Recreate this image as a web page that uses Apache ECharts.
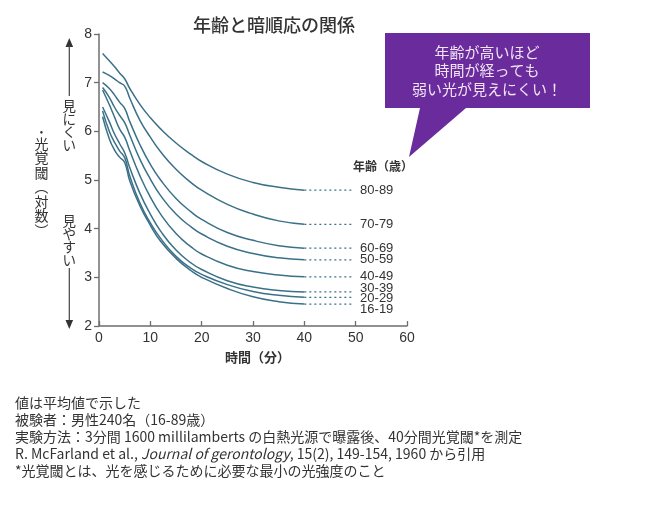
<!DOCTYPE html>
<html><head><meta charset="utf-8">
<script src="https://cdn.jsdelivr.net/npm/echarts@6/dist/echarts.min.js"></script>
<style>html,body{margin:0;padding:0;background:#fff;}#c{width:650px;height:515px;}</style>
</head><body><div id="c"></div>
<script>
var times = [0.7, 2, 3, 4, 5, 6, 8, 10, 12, 15, 18, 20, 25, 30, 35, 40];
var ageGroups = ['80-89', '70-79', '60-69', '50-59', '40-49', '30-39', '20-29', '16-19'];
var v80 = [7.6, 7.45, 7.33, 7.2, 7.08, 6.88, 6.55, 6.28, 6.05, 5.76, 5.52, 5.38, 5.12, 4.95, 4.85, 4.79];
var v70 = [7.22, 7.15, 7.08, 7.0, 6.93, 6.68, 6.22, 5.88, 5.58, 5.22, 4.94, 4.79, 4.5, 4.3, 4.16, 4.09];
var v60 = [7.0, 6.88, 6.75, 6.6, 6.47, 6.2, 5.72, 5.32, 5.0, 4.62, 4.34, 4.19, 3.92, 3.76, 3.65, 3.6];
var v50 = [6.9, 6.7, 6.5, 6.33, 6.18, 5.92, 5.42, 5.02, 4.68, 4.3, 4.03, 3.89, 3.64, 3.49, 3.4, 3.36];
var v40 = [6.85, 6.55, 6.3, 6.05, 5.88, 5.6, 5.08, 4.65, 4.3, 3.9, 3.62, 3.48, 3.25, 3.12, 3.05, 3.01];
var v30 = [6.5, 6.2, 5.95, 5.75, 5.56, 5.25, 4.72, 4.3, 3.95, 3.56, 3.29, 3.16, 2.93, 2.8, 2.73, 2.7];
var v20 = [6.42, 6.0, 5.78, 5.6, 5.46, 5.08, 4.52, 4.12, 3.8, 3.43, 3.18, 3.06, 2.85, 2.71, 2.63, 2.59];
var v16 = [6.3, 5.85, 5.62, 5.47, 5.36, 4.98, 4.46, 4.07, 3.74, 3.39, 3.13, 3.0, 2.77, 2.6, 2.5, 2.45];
var extendTo = 49.5;
var labelOffsets = [0, 0, 0, 0, 0, -4, 1, 5];
var xTicks = [0, 10, 20, 30, 40, 50, 60];
var yTicks = [2, 3, 4, 5, 6, 7, 8];

var allValues = [v80, v70, v60, v50, v40, v30, v20, v16];
var lineColor = '#3b7188';
var series = [];
allValues.forEach(function (vals, i) {
  series.push({
    type: 'line', name: ageGroups[i], showSymbol: false, symbol: 'none',
    smooth: 0.5,
    lineStyle: { color: lineColor, width: 1.5 },
    data: times.map(function (t, k) { return [t, vals[k]]; }),
    silent: true
  });
  var last = vals[vals.length - 1];
  series.push({
    type: 'line', name: ageGroups[i] + '_ext', showSymbol: false, symbol: 'none',
    lineStyle: { color: lineColor, width: 1.3, type: [2, 3] },
    data: [[times[times.length - 1], last], [extendTo, last]],
    endLabel: { show: true, distance: 7, offset: [0, labelOffsets[i]], formatter: ageGroups[i],
      color: '#333', fontSize: 13, fontFamily: 'Liberation Sans, Arial, sans-serif' },
    silent: true
  });
});

var chart = echarts.init(document.getElementById('c'), null, { renderer: 'canvas' });
var cjk = '"Noto Sans CJK JP", sans-serif';
chart.setOption({
  animation: false,
  backgroundColor: '#ffffff',
  grid: { left: 99, right: 243, top: 34, bottom: 189, containLabel: false },
  xAxis: {
    type: 'value', min: xTicks[0], max: xTicks[xTicks.length - 1], interval: 10,
    axisLine: { lineStyle: { color: '#6e6e6e', width: 1.5 } },
    axisTick: { inside: true, length: 5, lineStyle: { color: '#6e6e6e', width: 1.3 } },
    axisLabel: { color: '#333', fontSize: 14, margin: 5, fontFamily: 'Liberation Sans, Arial, sans-serif' },
    splitLine: { show: false }
  },
  yAxis: {
    type: 'value', min: yTicks[0], max: yTicks[yTicks.length - 1], interval: 1,
    axisLine: { show: true, lineStyle: { color: '#6e6e6e', width: 1.5 } },
    axisTick: { show: true, inside: false, length: 5, lineStyle: { color: '#6e6e6e', width: 1.3 } },
    axisLabel: { color: '#333', fontSize: 14, margin: 7, fontFamily: 'Liberation Sans, Arial, sans-serif' },
    splitLine: { show: false }
  },
  series: series,
  graphic: [
    { type: 'text', left: 193, top: 16, style: { text: '年齢と暗順応の関係', fill: '#333', font: '500 18px ' + cjk } },
    { type: 'text', left: 353, top: 160, style: { text: '年齢（歳）', fill: '#333', font: '600 12px ' + cjk } },
    { type: 'text', left: 225, top: 351, style: { text: '時間（分）', fill: '#333', font: '600 13px ' + cjk } },
    // y-axis side annotations
    { type: 'polygon', shape: { points: [[69.3, 38], [65.5, 47], [73.1, 47]] }, style: { fill: '#333' } },
    { type: 'line', shape: { x1: 69.3, y1: 45, x2: 69.3, y2: 96 }, style: { stroke: '#444', lineWidth: 1.2 } },
    { type: 'text', x: 69.3, y: 99, style: { text: '見\nに\nく\nい', fill: '#333', font: '13.5px ' + cjk, align: 'center', lineHeight: 13 } },
    { type: 'text', x: 69.3, y: 214, style: { text: '見\nや\nす\nい', fill: '#333', font: '13.5px ' + cjk, align: 'center', lineHeight: 13 } },
    { type: 'line', shape: { x1: 69.3, y1: 268, x2: 69.3, y2: 320 }, style: { stroke: '#444', lineWidth: 1.2 } },
    { type: 'polygon', shape: { points: [[69.3, 329], [65.5, 320], [73.1, 320]] }, style: { fill: '#333' } },
    { type: 'text', x: 41.5, y: 126, style: { text: '•', fill: '#333', font: '10px ' + cjk, align: 'center' } },
    { type: 'text', x: 41.5, y: 136, style: { text: '光\n覚\n閾\n︵\n対\n数\n︶', fill: '#333', font: '14px ' + cjk, align: 'center', lineHeight: 14.5 } },
    // speech bubble
    { type: 'polygon', shape: { points: [[385, 33], [590, 33], [590, 108], [466, 108], [409, 157], [420, 108], [385, 108]] },
      style: { fill: '#6a2c9c' } },
    { type: 'text', x: 487, y: 43, style: { text: '年齢が高いほど\n時間が経っても\n弱い光が見えにくい！', fill: '#f0e4f5', font: '15px ' + cjk, align: 'center', lineHeight: 18.5 } },
    // notes
    { type: 'text', left: 15, top: 396, style: { text: '値は平均値で示した', fill: '#333', font: '14px ' + cjk } },
    { type: 'text', left: 15, top: 413, style: { text: '被験者：男性240名（16-89歳）', fill: '#333', font: '14px ' + cjk } },
    { type: 'text', left: 15, top: 430, style: { text: '実験方法：3分間 1600 millilamberts の白熱光源で曝露後、40分間光覚閾*を測定', fill: '#333', font: '14px ' + cjk } },
    { type: 'text', left: 15, top: 447, style: {
      text: '{n|R. McFarland et al., }{i|Journal of gerontology}{n|, 15(2), 149-154, 1960 から引用}',
      fill: '#333', font: '14px ' + cjk,
      rich: { n: { fontSize: 14, fontFamily: cjk, fill: '#333' }, i: { fontSize: 14, fontFamily: cjk, fontStyle: 'italic', fill: '#333' } } } },
    { type: 'text', left: 15, top: 464, style: { text: '*光覚閾とは、光を感じるために必要な最小の光強度のこと', fill: '#333', font: '14px ' + cjk } }
  ]
});
</script>
</body></html>
